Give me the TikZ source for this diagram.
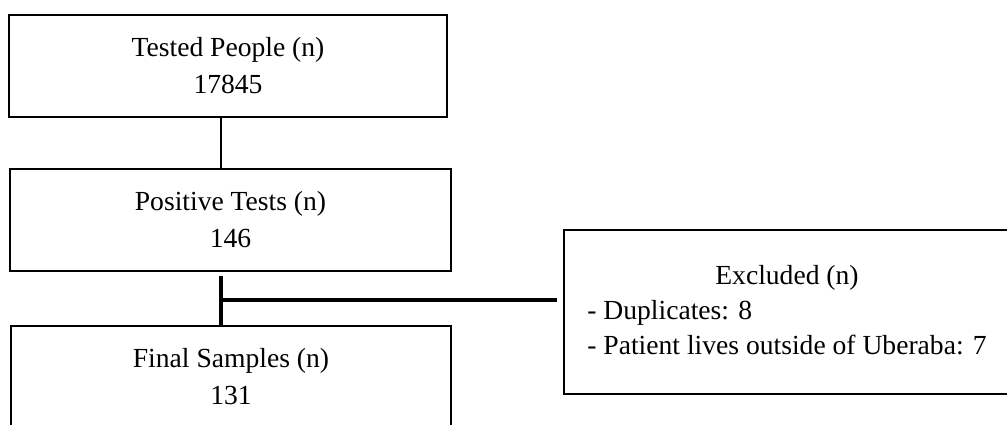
\documentclass[tikz,border=0pt]{standalone}
\usepackage{fontspec}
\setmainfont{Liberation Serif}
\usetikzlibrary{positioning,calc}

\begin{document}
\begin{tikzpicture}[x=0.5pt,y=0.5pt,
  box/.style={draw,line width=0.8pt,align=center,inner sep=0pt,minimum height=51pt,
    font=\fontsize{13.8}{18.5}\selectfont},
  link/.style={line width=0.8pt},
  thicklink/.style={line width=2pt}]
% page 1007 x 424 px, last box runs off the bottom
\useasboundingbox (0,0) rectangle (1007,424);
\clip (0,0) rectangle (1007,424);
% main column
\node[box,minimum width=219pt] (tested) at (228,358) {Tested People (n)\\17845};
\node[box,minimum width=220.5pt] (positive) at (230.5,204) {Positive Tests (n)\\146};
\node[box,minimum width=220pt] (final) at (231,47) {Final Samples (n)\\131};
% exclusions, cut at the right edge
\node[box,minimum width=223pt,minimum height=82pt,font=\fontsize{13.8}{17.5}\selectfont] (excluded) at (787,112)
  {\begin{tabular}{@{}l@{}}\multicolumn{1}{c}{Excluded (n)}\\- Duplicates: 8\\- Patient lives outside of Uberaba: 7\end{tabular}};
% connectors
\coordinate (trunk) at (221,0);
\coordinate (split) at (222,124);
\draw[link] (tested.south -| trunk) -- (positive.north -| trunk);
\draw[thicklink] ([yshift=-2pt]positive.south -| trunk) -- (final.north -| trunk);
\draw[thicklink] (split) -- ([xshift=-3pt]excluded.west |- split);
\end{tikzpicture}
\end{document}
